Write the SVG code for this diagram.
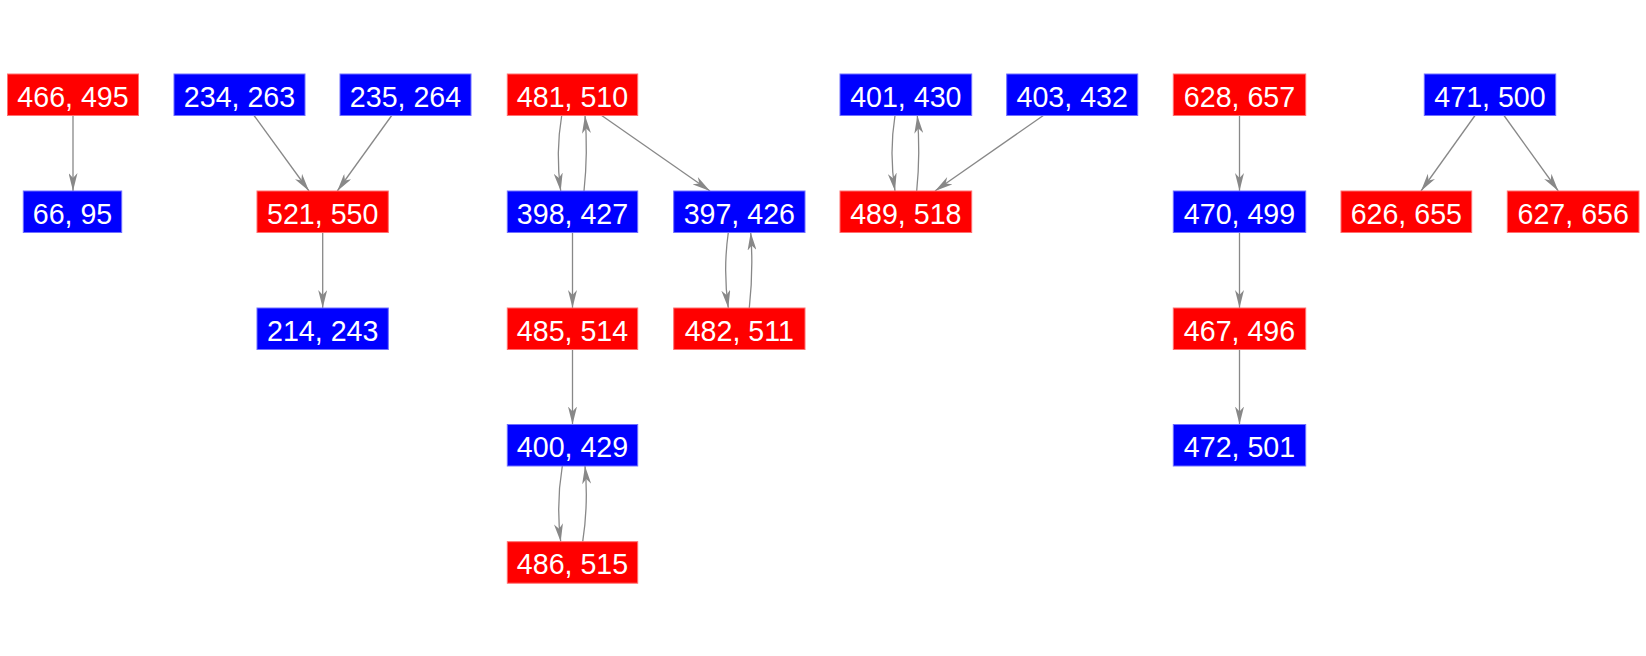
<svg xmlns="http://www.w3.org/2000/svg" width="1646" height="656" viewBox="0 0 1646 656">
<style>
.r{fill:#ff0000;stroke:#ff7070;stroke-width:1}
.b{fill:#0000ff;stroke:#7070ff;stroke-width:1}
text{font-family:"Liberation Sans",Arial,sans-serif;font-size:28.6px;fill:#ffffff;text-anchor:middle}
.e path{fill:none;stroke:#888888;stroke-width:1.3}
</style>
<defs>
<marker id="a" viewBox="0 0 18 9" refX="18" refY="4.5" markerWidth="18" markerHeight="9" markerUnits="userSpaceOnUse" orient="auto">
<path d="M0,0 L18,4.5 L0,9 L5,4.5 z" fill="#888888"/>
</marker>
</defs>
<rect width="1646" height="656" fill="#ffffff"/>
<g class="e" id="edges">
<path d="M73,115.5 L73,191" marker-end="url(#a)"/>
<path d="M254,115.5 L309,191" marker-end="url(#a)"/>
<path d="M391.7,115.5 L337.3,191" marker-end="url(#a)"/>
<path d="M322.7,232.5 L322.7,308" marker-end="url(#a)"/>
<path d="M561.7,115.5 Q555.4,153 560.7,191" marker-end="url(#a)"/>
<path d="M584,191 Q588.1,153 585,115.5" marker-end="url(#a)"/>
<path d="M601.7,115.5 L710,191" marker-end="url(#a)"/>
<path d="M572.5,232.5 L572.5,308" marker-end="url(#a)"/>
<path d="M572.5,349.5 L572.5,424.5" marker-end="url(#a)"/>
<path d="M562.3,466 Q556,504 560.7,541.7" marker-end="url(#a)"/>
<path d="M582.7,541.7 Q588.5,504 585,466" marker-end="url(#a)"/>
<path d="M728.3,232.5 Q723,270 728.3,308" marker-end="url(#a)"/>
<path d="M749.3,308 Q753.5,270 750.7,232.5" marker-end="url(#a)"/>
<path d="M895,115.5 Q889,153 895,191" marker-end="url(#a)"/>
<path d="M916.7,191 Q920.5,153 917.3,115.5" marker-end="url(#a)"/>
<path d="M1043.3,115.5 L935,191" marker-end="url(#a)"/>
<path d="M1239.5,115.5 L1239.5,191" marker-end="url(#a)"/>
<path d="M1239.5,232.5 L1239.5,308" marker-end="url(#a)"/>
<path d="M1239.5,349.5 L1239.5,424.5" marker-end="url(#a)"/>
<path d="M1475,115.5 L1421,191" marker-end="url(#a)"/>
<path d="M1504,115.5 L1558.3,191" marker-end="url(#a)"/>
</g>
<g id="n466"><rect class="r" x="7.5" y="74" width="131" height="41.5"/><text x="73" y="106.5">466, 495</text></g>
<g id="n66"><rect class="b" x="23.3" y="191" width="98.4" height="41.5"/><text x="72.5" y="223.5">66, 95</text></g>
<g id="n234"><rect class="b" x="174" y="74" width="131" height="41.5"/><text x="239.5" y="106.5">234, 263</text></g>
<g id="n235"><rect class="b" x="340" y="74" width="131" height="41.5"/><text x="405.5" y="106.5">235, 264</text></g>
<g id="n521"><rect class="r" x="257" y="191" width="131.3" height="41.5"/><text x="322.7" y="223.5">521, 550</text></g>
<g id="n214"><rect class="b" x="257" y="308" width="131.3" height="41.5"/><text x="322.7" y="340.5">214, 243</text></g>
<g id="n481"><rect class="r" x="507.3" y="74" width="130.4" height="41.5"/><text x="572.5" y="106.5">481, 510</text></g>
<g id="n398"><rect class="b" x="507.3" y="191" width="130.4" height="41.5"/><text x="572.5" y="223.5">398, 427</text></g>
<g id="n397"><rect class="b" x="673.7" y="191" width="131.3" height="41.5"/><text x="739.3" y="223.5">397, 426</text></g>
<g id="n485"><rect class="r" x="507.3" y="308" width="130.4" height="41.5"/><text x="572.5" y="340.5">485, 514</text></g>
<g id="n482"><rect class="r" x="673.7" y="308" width="131.3" height="41.5"/><text x="739.3" y="340.5">482, 511</text></g>
<g id="n400"><rect class="b" x="507.3" y="424.5" width="130.4" height="41.5"/><text x="572.5" y="457">400, 429</text></g>
<g id="n486"><rect class="r" x="507.3" y="541.7" width="130.4" height="41.5"/><text x="572.5" y="574.2">486, 515</text></g>
<g id="n401"><rect class="b" x="840" y="74" width="131.7" height="41.5"/><text x="905.8" y="106.5">401, 430</text></g>
<g id="n403"><rect class="b" x="1006.7" y="74" width="131" height="41.5"/><text x="1072.2" y="106.5">403, 432</text></g>
<g id="n489"><rect class="r" x="840" y="191" width="131.7" height="41.5"/><text x="905.8" y="223.5">489, 518</text></g>
<g id="n628"><rect class="r" x="1173.3" y="74" width="132.4" height="41.5"/><text x="1239.5" y="106.5">628, 657</text></g>
<g id="n470"><rect class="b" x="1173.3" y="191" width="132.4" height="41.5"/><text x="1239.5" y="223.5">470, 499</text></g>
<g id="n467"><rect class="r" x="1173.3" y="308" width="132.4" height="41.5"/><text x="1239.5" y="340.5">467, 496</text></g>
<g id="n472"><rect class="b" x="1173.3" y="424.5" width="132.4" height="41.5"/><text x="1239.5" y="457">472, 501</text></g>
<g id="n471"><rect class="b" x="1424.3" y="74" width="131.4" height="41.5"/><text x="1490" y="106.5">471, 500</text></g>
<g id="n626"><rect class="r" x="1341" y="191" width="130.7" height="41.5"/><text x="1406.3" y="223.5">626, 655</text></g>
<g id="n627"><rect class="r" x="1507.3" y="191" width="131.7" height="41.5"/><text x="1573.2" y="223.5">627, 656</text></g>
</svg>
